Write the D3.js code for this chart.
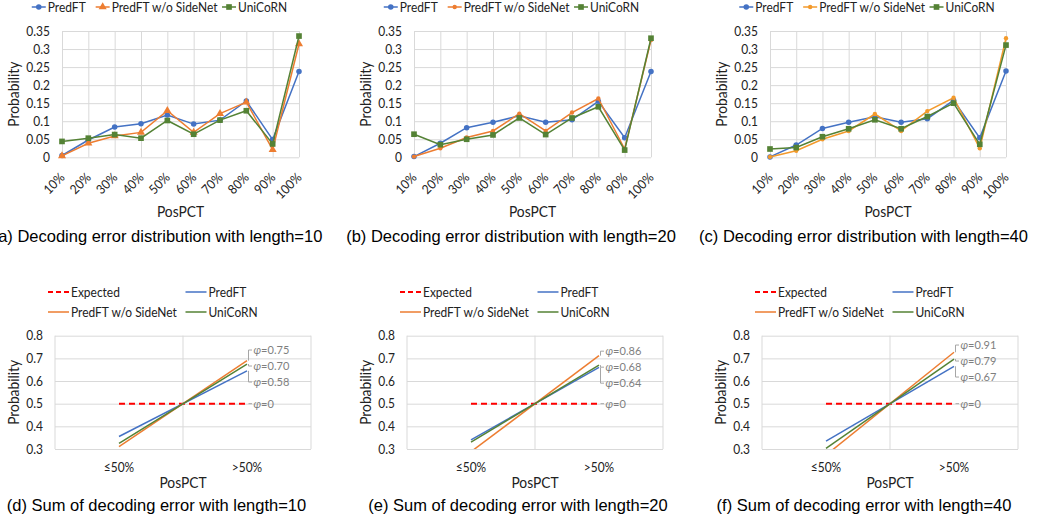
<!DOCTYPE html>
<html>
<head>
<meta charset="utf-8">
<script src="https://cdn.jsdelivr.net/npm/d3@7"></script>
<style>
body { margin: 0; background: #fff; }
</style>
</head>
<body>
<div id="chart"></div>
<script>
// ---- data ----
const categories = ["10%", "20%", "30%", "40%", "50%", "60%", "70%", "80%", "90%", "100%"];
const seriesNames = ["PredFT", "PredFT w/o SideNet", "UniCoRN"];
const topTicks = [0, 0.05, 0.1, 0.15, 0.2, 0.25, 0.3, 0.35];

const predft10 = [0.005, 0.048, 0.084, 0.093, 0.117, 0.092, 0.103, 0.156, 0.049, 0.238];
const noSide10 = [0.004, 0.039, 0.059, 0.069, 0.129, 0.069, 0.121, 0.153, 0.021, 0.314];
const unicorn10 = [0.044, 0.053, 0.063, 0.053, 0.102, 0.064, 0.103, 0.129, 0.037, 0.336];

const predft20 = [0.002, 0.039, 0.082, 0.097, 0.115, 0.097, 0.104, 0.155, 0.054, 0.238];
const noSide20 = [0.002, 0.025, 0.055, 0.073, 0.121, 0.073, 0.124, 0.163, 0.023, 0.325];
const unicorn20 = [0.064, 0.035, 0.050, 0.062, 0.109, 0.063, 0.109, 0.140, 0.020, 0.330];

const predft40 = [0.001, 0.034, 0.080, 0.097, 0.112, 0.097, 0.107, 0.158, 0.054, 0.239];
const noSide40 = [0.001, 0.018, 0.050, 0.073, 0.120, 0.073, 0.128, 0.165, 0.025, 0.330];
const unicorn40 = [0.023, 0.027, 0.057, 0.079, 0.104, 0.079, 0.113, 0.150, 0.036, 0.311];

const sumCats = ["≤50%", ">50%"];
const sumNames = ["Expected", "PredFT", "PredFT w/o SideNet", "UniCoRN"];
const sumTicks = [0.3, 0.4, 0.5, 0.6, 0.7, 0.8];
const expected = [0.5, 0.5];

const sumPredft10 = [0.355, 0.645];
const sumNoSide10 = [0.31, 0.69];
const sumUnicorn10 = [0.325, 0.675];
const sumPredft20 = [0.34, 0.66];
const sumNoSide20 = [0.288, 0.712];
const sumUnicorn20 = [0.33, 0.67];
const sumPredft40 = [0.335, 0.665];
const sumNoSide40 = [0.273, 0.727];
const sumUnicorn40 = [0.303, 0.697];

// phi values, order: w/o SideNet, UniCoRN, PredFT
const phi10 = [0.75, 0.70, 0.58];
const phi20 = [0.86, 0.68, 0.64];
const phi40 = [0.91, 0.79, 0.67];

const topCaptions = [
    "(a) Decoding error distribution with length=10",
    "(b) Decoding error distribution with length=20",
    "(c) Decoding error distribution with length=40"
];
const sumCaptions = [
    "(d) Sum of decoding error with length=10",
    "(e) Sum of decoding error with length=20",
    "(f) Sum of decoding error with length=40"
];

// ---- layout ----
const topPanels = [
    { x0: 62, x1: 299, cap: 157.5 },
    { x0: 414, x1: 651, cap: 511 },
    { x0: 770, x1: 1006, cap: 863.5 }
];
const sumPanels = [
    { x0: 55, x1: 311, cap: 156.5 },
    { x0: 407, x1: 663, cap: 518 },
    { x0: 762, x1: 1018, cap: 864 }
];

const blue = "#4472C4", orange = "#ED7D31", green = "#548235", gridColor = "#D9D9D9";
const font = "Lato, 'Noto Sans', sans-serif";
const capFont = "'Liberation Sans', Arial, sans-serif";
const squeeze = 0.92; // Lato runs wider than the original's Calibri

const svg = d3.select("#chart")
    .append("svg")
    .attr("width", 1037)
    .attr("height", 519);

const distData = [
    [predft10, noSide10, unicorn10],
    [predft20, noSide20, unicorn20],
    [predft40, noSide40, unicorn40]
];
const sumData = [
    [sumPredft10, sumNoSide10, sumUnicorn10],
    [sumPredft20, sumNoSide20, sumUnicorn20],
    [sumPredft40, sumNoSide40, sumUnicorn40]
];
const sumPhi = [phi10, phi20, phi40];

topPanels.forEach((p, i) => drawDistribution(p, distData[i], topCaptions[i], i));
sumPanels.forEach((p, i) => drawSum(p, sumData[i], sumPhi[i], sumCaptions[i], i));

function narrow(sel) {
    sel.each(function () {
        const len = this.getComputedTextLength();
        d3.select(this)
            .attr("textLength", len * squeeze)
            .attr("lengthAdjust", "spacingAndGlyphs");
    });
}

function styleAxis(sel) {
    sel.attr("font-family", null).attr("font-size", null);
    sel.select(".domain").remove();
    sel.selectAll("line").attr("stroke", gridColor);
    sel.selectAll("text")
        .attr("fill", "#222")
        .attr("font-size", 13)
        .attr("font-family", font)
        .call(narrow);
}

function drawDistribution(p, series, caption, i) {
    const g = svg.append("g");
    const x = d3.scalePoint().domain(categories).range([p.x0, p.x1]);
    const y = d3.scaleLinear().domain([0, 0.35]).range([157.3, 31]);
    const oColor = i === 2 ? "#F39A2B" : orange;
    const colors = [blue, oColor, green];
    const symbols = [
        d3.symbol().type(d3.symbolCircle).size(24),
        i === 0 ? d3.symbol().type(d3.symbolTriangle).size(28) : d3.symbol().type(d3.symbolCircle).size(15),
        d3.symbol().type(d3.symbolSquare).size(32)
    ];

    // horizontal grid + value labels
    g.append("g")
        .attr("transform", `translate(${p.x0},0)`)
        .call(d3.axisLeft(y).tickValues(topTicks).tickSize(-(p.x1 - p.x0)).tickPadding(12)
            .tickFormat(d => String(+d.toFixed(2))))
        .call(styleAxis);

    // vertical grid + rotated category labels
    g.append("g")
        .attr("transform", `translate(0,${y(0)})`)
        .call(d3.axisBottom(x).tickSize(-(y(0) - y(0.35))).tickPadding(0))
        .call(styleAxis)
        .selectAll("text")
        .attr("x", 0).attr("y", 0).attr("dy", 0)
        .attr("text-anchor", "end")
        .attr("transform", "translate(3,21) rotate(-45)");

    const line = d3.line()
        .x((d, j) => x(categories[j]))
        .y(d => y(d));

    series.forEach((vals, k) => {
        g.append("path")
            .attr("d", line(vals))
            .attr("fill", "none")
            .attr("stroke", colors[k])
            .attr("stroke-width", 1.5);
        g.selectAll(null)
            .data(vals)
            .enter()
            .append("path")
            .attr("d", symbols[k])
            .attr("transform", (d, j) => `translate(${x(categories[j])},${y(d)})`)
            .attr("fill", colors[k]);
    });

    // legend
    const leg = g.append("g");
    let cx = 0;
    seriesNames.forEach((name, k) => {
        const it = leg.append("g").attr("transform", `translate(${cx},0)`);
        it.append("line")
            .attr("x1", 0).attr("x2", 14)
            .attr("stroke", colors[k]).attr("stroke-width", 1.5);
        it.append("path").attr("d", symbols[k]).attr("transform", "translate(7,0)").attr("fill", colors[k]);
        const t = it.append("text")
            .attr("x", 16).attr("dy", "0.35em")
            .attr("font-family", font).attr("font-size", 13).attr("fill", "#222")
            .text(name)
            .call(narrow);
        cx += 16 + t.node().getComputedTextLength() * squeeze + 13;
    });
    const w = cx - 13;
    leg.attr("transform", `translate(${(p.x0 + p.x1) / 2 - 23 - w / 2},7)`);

    g.append("text")
        .attr("transform", `translate(${p.x0 - 48},${(y(0) + y(0.35)) / 2}) rotate(-90)`)
        .attr("text-anchor", "middle").attr("dy", "0.35em")
        .attr("font-family", font).attr("font-size", 15).attr("fill", "#222")
        .text("Probability")
        .call(narrow);

    g.append("text")
        .attr("x", (p.x0 + p.x1) / 2).attr("y", 217)
        .attr("text-anchor", "middle")
        .attr("font-family", font).attr("font-size", 15).attr("fill", "#222")
        .text("PosPCT")
        .call(narrow);

    g.append("text")
        .attr("x", p.cap).attr("y", 242)
        .attr("text-anchor", "middle")
        .attr("font-family", capFont).attr("font-size", 16.5).attr("fill", "#000")
        .text(caption);
}

function drawSum(p, series, phi, caption, i) {
    const g = svg.append("g");
    const x = d3.scaleBand().domain(sumCats).range([p.x0, p.x1]);
    const y = d3.scaleLinear().domain([0.3, 0.8]).range([449, 335.7]);
    const cxOf = c => x(c) + x.bandwidth() / 2;

    g.append("g")
        .attr("transform", `translate(${p.x0},0)`)
        .call(d3.axisLeft(y).tickValues(sumTicks).tickSize(-(p.x1 - p.x0)).tickPadding(12)
            .tickFormat(d => d.toFixed(1)))
        .call(styleAxis);

    // category boundaries
    g.selectAll(null)
        .data(sumCats.map(c => x(c)).concat([p.x1]))
        .enter()
        .append("line")
        .attr("x1", d => d).attr("x2", d => d)
        .attr("y1", y(0.3)).attr("y2", y(0.8))
        .attr("stroke", gridColor);

    g.append("g")
        .attr("transform", `translate(0,${y(0.3)})`)
        .call(d3.axisBottom(x).tickSize(0))
        .call(styleAxis)
        .selectAll("text")
        .attr("y", 23).attr("dy", 0);

    const clipId = "clip" + i;
    svg.append("clipPath").attr("id", clipId)
        .append("rect")
        .attr("x", p.x0).attr("y", y(0.8))
        .attr("width", p.x1 - p.x0).attr("height", y(0.3) - y(0.8));

    const line = d3.line()
        .x((d, j) => cxOf(sumCats[j]))
        .y(d => y(d));

    const plot = g.append("g").attr("clip-path", `url(#${clipId})`);
    plot.append("path")
        .attr("d", line(expected))
        .attr("fill", "none").attr("stroke", "#FF0000")
        .attr("stroke-width", 2).attr("stroke-dasharray", "6,4");
    const colors = [blue, orange, green];
    series.forEach((vals, k) => {
        plot.append("path")
            .attr("d", line(vals))
            .attr("fill", "none")
            .attr("stroke", colors[k])
            .attr("stroke-width", 1.5);
    });

    // phi labels at the right end
    const px = cxOf(sumCats[1]);
    const mid = y(series[2][1]) + 2;
    const labels = [
        { v: phi[0], py: y(series[1][1]), ly: mid - 16 },
        { v: phi[1], py: y(series[2][1]), ly: mid },
        { v: phi[2], py: y(series[0][1]), ly: mid + 16 },
        { v: 0, py: y(expected[1]), ly: y(expected[1]) }
    ];
    labels.forEach(l => {
        g.append("path")
            .attr("d", `M${px + 1.5},${l.py}V${l.ly}H${px + 5}`)
            .attr("fill", "none").attr("stroke", "#A6A6A6");
        const t = g.append("text")
            .attr("x", px + 6.5).attr("y", l.ly).attr("dy", "0.35em")
            .attr("font-family", font).attr("font-size", 12).attr("fill", "#7F7F7F");
        t.append("tspan").attr("font-style", "italic").text("φ");
        t.append("tspan").text("=" + (l.v === 0 ? "0" : l.v.toFixed(2)));
        t.call(narrow);
    });

    // legend: 2 x 2
    const legColors = ["#FF0000", blue, orange, green];
    sumNames.forEach((name, k) => {
        const lx = p.x0 + (k % 2 === 0 ? -7 : 130.5);
        const ly = k < 2 ? 292 : 312;
        g.append("line")
            .attr("x1", lx).attr("x2", lx + 21)
            .attr("y1", ly).attr("y2", ly)
            .attr("stroke", legColors[k]).attr("stroke-width", k === 0 ? 2 : 1.5)
            .attr("stroke-dasharray", k === 0 ? "5,3" : null);
        g.append("text")
            .attr("x", lx + 23).attr("y", ly).attr("dy", "0.35em")
            .attr("font-family", font).attr("font-size", 13).attr("fill", "#222")
            .text(name)
            .call(narrow);
    });

    g.append("text")
        .attr("transform", `translate(${p.x0 - 41},${(y(0.3) + y(0.8)) / 2}) rotate(-90)`)
        .attr("text-anchor", "middle").attr("dy", "0.35em")
        .attr("font-family", font).attr("font-size", 15).attr("fill", "#222")
        .text("Probability")
        .call(narrow);

    g.append("text")
        .attr("x", (p.x0 + p.x1) / 2).attr("y", 488)
        .attr("text-anchor", "middle")
        .attr("font-family", font).attr("font-size", 15).attr("fill", "#222")
        .text("PosPCT")
        .call(narrow);

    g.append("text")
        .attr("x", p.cap).attr("y", 511)
        .attr("text-anchor", "middle")
        .attr("font-family", capFont).attr("font-size", 16.5).attr("fill", "#000")
        .text(caption);
}
</script>
</body>
</html>
